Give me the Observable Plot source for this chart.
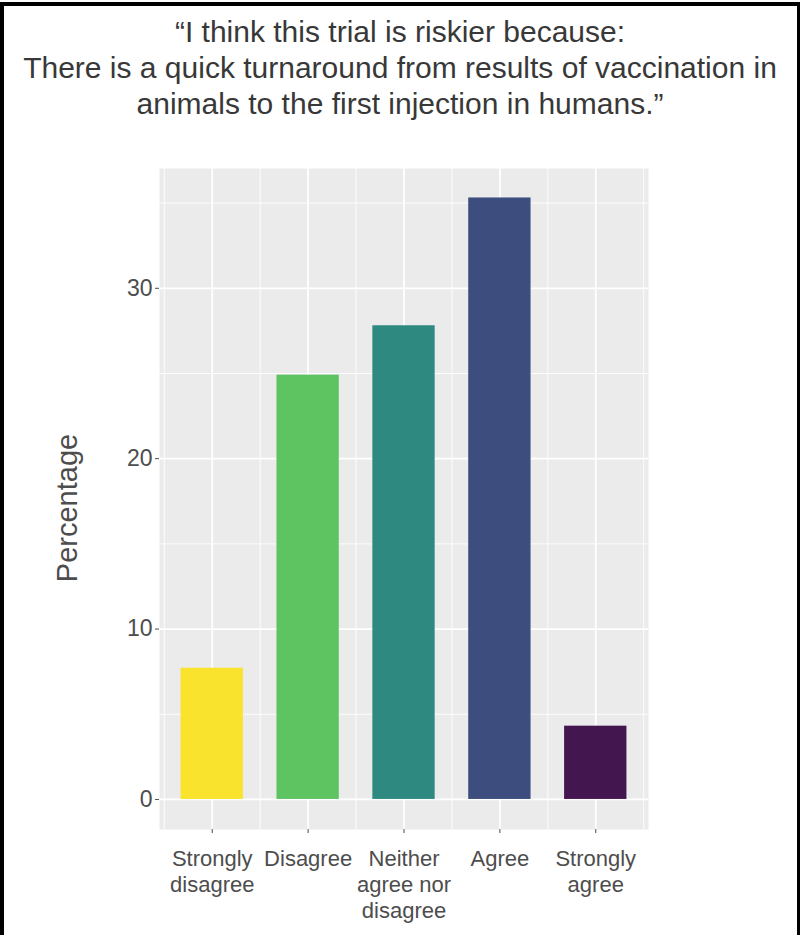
<!DOCTYPE html>
<html>
<head>
<meta charset="utf-8">
<script src="https://cdn.jsdelivr.net/npm/d3@7"></script>
<script src="https://cdn.jsdelivr.net/npm/@observablehq/plot@0.6"></script>
<style>
  html, body { margin: 0; padding: 0; background: white; }
  #wrap { position: relative; width: 800px; height: 935px; overflow: hidden; background: white; }
  #border { position: absolute; left: 0; top: 2px; width: 800px; height: 960px; box-sizing: border-box;
            border-left: 4px solid #000; border-top: 4px solid #000; border-right: 3px solid #000; pointer-events: none; }
  #title { height: 140px; box-sizing: border-box; padding-top: 14px; text-align: center;
           font-family: "Liberation Sans", Arial, sans-serif; font-size: 30px; line-height: 36px; color: #383838; }
</style>
</head>
<body>
<div id="wrap">
  <div id="title"></div>
  <div id="chart"></div>
  <div id="border"></div>
</div>
<script>
const titleLines = [
  "“I think this trial is riskier because:",
  "There is a quick turnaround from results of vaccination in",
  "animals to the first injection in humans.”"
];
const categories = ["Strongly\ndisagree", "Disagree", "Neither\nagree nor\ndisagree", "Agree", "Strongly\nagree"];
const percentages = [7.7, 24.9, 27.8, 35.3, 4.3];
const barColors = ["#f9e32c", "#5ec462", "#2e8a81", "#3c4d7e", "#441650"];
const yTicks = [0, 10, 20, 30];
const yMinor = [5, 15, 25, 35];
const yLabel = "Percentage";

document.getElementById("title").innerHTML = titleLines.map(t => `<div>${t}</div>`).join("");

const positions = categories.map((c, i) => i + 1);
const minorX = [0, ...positions].map(p => p + 0.5);
const halfWidth = 0.325;
const data = categories.map((c, i) => ({pos: i + 1, label: c, value: percentages[i]}));

const chart = Plot.plot({
  width: 800,
  height: 795,
  marginTop: 28,
  marginBottom: 106,
  marginLeft: 159,
  marginRight: 152,
  style: {fontFamily: "'Liberation Sans', Arial, sans-serif", background: "white", overflow: "visible"},
  x: {type: "linear", domain: [0.45, 5.55]},
  y: {domain: [-1.764, 37.03]},
  color: {domain: categories, range: barColors},
  marks: [
    Plot.frame({fill: "#ebebeb", stroke: null}),
    Plot.ruleY(yMinor, {stroke: "white", strokeWidth: 0.9}),
    Plot.ruleX(minorX, {stroke: "white", strokeWidth: 0.9}),
    Plot.ruleY(yTicks, {stroke: "white", strokeWidth: 1.8}),
    Plot.ruleX(positions, {stroke: "white", strokeWidth: 1.8}),
    Plot.rectY(data, {x1: d => d.pos - halfWidth, x2: d => d.pos + halfWidth, y1: 0, y2: "value", fill: "label"}),
    Plot.axisY({ticks: yTicks, tickSize: 4, tickPadding: 3, fontSize: 23, label: null, color: "#4d4d4d"}),
    Plot.axisX({ticks: positions, tickFormat: i => categories[i - 1], tickSize: 4, tickPadding: 14,
                fontSize: 22, lineHeight: 1.18, label: null, color: "#4d4d4d"}),
    Plot.text([yLabel], {text: d => d, frameAnchor: "left", textAnchor: "middle", rotate: -90, dx: -92, dy: 9,
                         fontSize: 29, fill: "#4d4d4d"})
  ]
});
document.getElementById("chart").appendChild(chart);
</script>
</body>
</html>
